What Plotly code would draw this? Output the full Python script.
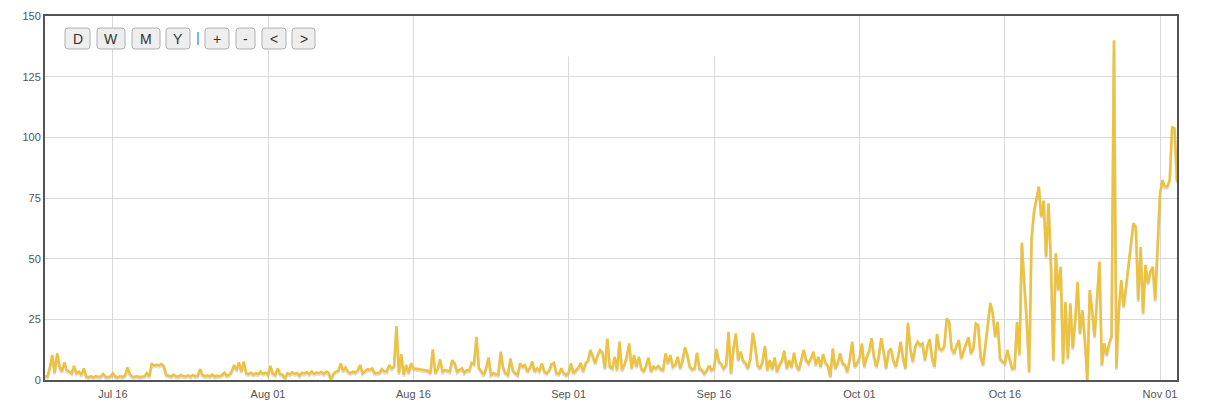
import pandas as pd
import plotly.graph_objects as go

# ---------------- data (6-hourly samples starting 2013-07-09 00:00) ----------------
start_time = "2013-07-09 00:00"
sample_step = "6h"

values_jul = [
    1.5, 1.4, 5.0, 10.3, 3.0, 11.0, 5.5, 3.5,
    7.3, 4.0, 3.5, 2.8, 5.8, 2.8, 3.5, 2.1,
    4.8, 1.4, 1.2, 1.5, 1.1, 1.6, 1.3, 1.4,
    2.5, 1.3, 1.2, 1.5, 2.8, 1.4, 1.2, 1.6,
    1.3, 1.8, 5.2, 2.5, 1.4, 1.3, 1.6, 1.2,
    1.4, 1.5, 2.8, 1.4, 6.6, 6.0, 6.3, 6.0,
    6.6, 5.8, 2.1, 1.8, 1.5, 2.2, 1.6, 1.4,
    2.0, 1.7, 1.5, 1.9, 1.4, 2.1, 1.6, 1.8,
    4.5, 2.1, 1.6, 1.9, 1.5, 2.2, 1.4, 1.8,
    1.6, 2.0, 3.0, 1.8, 2.2, 3.5, 6.2, 4.1,
    7.3, 3.5, 7.6, 2.8, 2.5, 3.0, 2.2, 2.8,
    2.4, 3.5, 2.6, 3.0,
]

values_aug = [
    2.2, 5.8, 2.6, 2.1, 4.8, 2.5, 2.1, 0.8,
    2.8, 2.4, 3.2, 2.5, 2.9, 1.8, 3.0, 2.6,
    3.3, 2.4, 3.5, 2.6, 3.1, 2.8, 3.4, 2.5,
    3.5, 2.9, 0.3, 2.5, 3.5, 3.8, 6.9, 3.8,
    5.2, 3.4, 2.8, 3.5, 3.0, 4.0, 6.2, 2.8,
    3.5, 4.5, 4.2, 4.8, 2.8, 2.8, 3.0, 4.5,
    3.5, 3.5, 6.2, 4.8, 5.5, 22.2, 2.8, 10.6,
    2.1, 6.2, 2.8, 6.9, 4.8, None, None, None,
    None, None, 3.8, 2.8, 12.6, 2.8, 4.5, 8.5,
    3.5, 4.1, 3.8, 3.5, 8.2, 6.9, 3.5, 4.0,
    4.8, 3.0, 4.1, 3.8, 7.1, 6.6, 17.8, 5.0,
    3.5, 2.1, 5.0, 9.3, 2.1, 2.8, 2.4, 2.1,
    11.7, 5.0, 2.8, 2.1, 8.9, 4.0, 2.8, 2.1,
    6.9, 5.5, 6.2, 3.5, 5.0, 7.6, 3.5, 4.8,
    3.8, 6.9, 3.5, 2.8, 4.0, 6.6, 7.1, 2.8,
    2.5, 4.8, 2.8, 2.1,
]

values_sep = [
    3.0, 6.9, 2.8, 4.1, 5.0, 7.1, 3.5, 6.9,
    8.0, 12.4, 9.6, 6.9, 10.3, 12.4, 11.3, 4.8,
    17.1, 5.5, 4.8, 9.6, 4.1, 15.8, 4.1, 6.2,
    9.6, 15.1, 4.8, 10.3, 5.5, 9.6, 4.8, 3.5,
    6.0, 9.2, 3.5, 5.5, 4.8, 5.8, 4.5, 4.1,
    11.0, 6.9, 10.3, 5.5, 6.2, 9.6, 4.8, 8.0,
    13.5, 10.3, 5.5, 4.4, 4.8, 11.3, 4.8, 4.1,
    2.7, 4.0, 5.9, 4.1, 4.8, 12.8, 7.6, 6.6,
    4.8, 6.2, 19.9, 2.7, 13.0, 19.2, 8.2, 11.7,
    8.0, 6.9, 4.8, 8.9, 19.5, 13.7, 6.0, 4.8,
    7.6, 14.0, 4.1, 8.2, 4.4, 9.3, 3.4, 6.2,
    8.0, 12.1, 4.8, 8.2, 5.2, 11.3, 6.0, 4.1,
    8.2, 12.4, 8.2, 6.9, 9.0, 11.7, 6.2, 9.6,
    5.5, 10.7, 7.0, 5.8, 1.4, 13.0, 4.8, 6.9,
    11.0, 7.0, 6.2, 3.4, 8.5, 15.8, 5.5, 6.9,
]

values_oct = [
    9.0, 15.1, 5.5, 9.6, 12.0, 17.2, 9.6, 5.5,
    10.0, 17.2, 11.7, 4.8, 11.7, 13.0, 8.0, 5.5,
    10.0, 15.8, 8.9, 4.8, 23.6, 13.0, 7.6, 13.7,
    15.8, 14.4, 15.1, 8.2, 14.0, 16.8, 8.9, 5.5,
    19.0, 13.0, 12.4, 14.0, 25.4, 24.0, 13.0, 11.0,
    14.0, 16.5, 8.9, 12.4, 15.0, 17.6, 11.0, 13.0,
    23.3, 22.6, 9.6, 6.2, 15.1, 21.9, 31.8, 27.5,
    17.9, 24.0, 8.9, 7.6, 6.9, 12.4, 8.2, 4.8,
    5.0, 24.0, 10.5, 56.6, 39.9, 24.7, 3.4, 58.4,
    69.4, 74.2, 79.7, 67.3, 74.0, 50.8, 72.8, 48.1,
    8.2, 52.2, 37.1, 46.7, 6.9, 32.2, 8.9, 31.6,
    13.0, 24.7, 40.5, 19.2, 28.8, 16.5, 0.0, 37.1,
    28.8, 17.9, 31.6, 48.8, 6.2, 15.1, 10.3, 15.1,
    17.9, 140.0, 4.8, 28.8, 41.2, 30.2, 38.5, 48.1,
    54.9, 64.6, 63.2, 32.9, 54.9, 27.5, 47.4, 39.8,
    44.6, 46.7, 32.9, 53.6,
]

values_nov = [76.9, 82.4, 79.7, 79.7, 82.4, 104.4, 103.7, 81.7]

tick_dates = ["2013-07-16", "2013-08-01", "2013-08-16", "2013-09-01",
              "2013-09-16", "2013-10-01", "2013-10-16", "2013-11-01"]
tick_labels = ["Jul 16", "Aug 01", "Aug 16", "Sep 01",
               "Sep 16", "Oct 01", "Oct 16", "Nov 01"]
y_ticks = [0, 25, 50, 75, 100, 125, 150]
button_labels = ["D", "W", "M", "Y", "+", "-", "<", ">"]

# ---------------- figure ----------------
values = values_jul + values_aug + values_sep + values_oct + values_nov
times = pd.date_range(start_time, periods=len(values), freq=sample_step)
shadow = [None if v is None else v - 0.7 for v in values]

LINE = "#edc240"
AXIS = "#545454"
GRID = "#d9d9d9"
FONT = "Liberation Sans, Arial, sans-serif"

fig = go.Figure()
fig.add_trace(go.Scatter(x=times, y=shadow, mode="lines", connectgaps=True,
                         line=dict(color="rgba(0,0,0,0.13)", width=2.8),
                         hoverinfo="skip", showlegend=False))
fig.add_trace(go.Scatter(x=times, y=values, mode="lines", connectgaps=True,
                         line=dict(color=LINE, width=2.5),
                         showlegend=False))

axis_common = dict(showgrid=True, gridcolor=GRID, gridwidth=1,
                   showline=True, linecolor=AXIS, linewidth=2, mirror=True,
                   ticks="", zeroline=False, automargin=False,
                   tickfont=dict(family=FONT, size=11, color=AXIS))

fig.update_xaxes(type="date", range=[times[0], times[-1]],
                 tickmode="array", tickvals=tick_dates, ticktext=tick_labels,
                 ticklabelstandoff=3, **axis_common)
fig.update_yaxes(range=[0, 150], tickmode="array", tickvals=y_ticks,
                 **axis_common)

# navigation buttons (pixel offsets from plot top-left)
button_spans = [(20, 45), (52, 80), (87, 115), (121, 145),
                (160, 184), (191, 210), (217, 241), (247, 270)]
shapes = []
annotations = []
top, bot, r = -12, -33, 3
for label, (x0, x1) in zip(button_labels, button_spans):
    path = (f"M {x0 + r},{top} L {x1 - r},{top} Q {x1},{top} {x1},{top - r} "
            f"L {x1},{bot + r} Q {x1},{bot} {x1 - r},{bot} L {x0 + r},{bot} "
            f"Q {x0},{bot} {x0},{bot + r} L {x0},{top - r} Q {x0},{top} {x0 + r},{top} Z")
    shapes.append(dict(type="path", path=path, xref="paper", yref="paper",
                       xsizemode="pixel", ysizemode="pixel", xanchor=0, yanchor=1,
                       fillcolor="#eeeeee", line=dict(color="#b0b0b0", width=1),
                       layer="above"))
    annotations.append(dict(text=label, x=0, y=1, xref="paper", yref="paper",
                            xshift=(x0 + x1) / 2, yshift=(top + bot) / 2,
                            xanchor="center", yanchor="middle", showarrow=False,
                            font=dict(family=FONT, size=14, color="#333333")))
# blue separator
shapes.append(dict(type="line", xref="paper", yref="paper",
                   xsizemode="pixel", ysizemode="pixel", xanchor=0, yanchor=1,
                   x0=153, x1=153, y0=-16, y1=-29,
                   line=dict(color="#4a9fdc", width=1.5), layer="above"))
# white mask over the top of two vertical gridlines (as in the reference)
shapes.append(dict(type="rect", xref="x", yref="y",
                   x0="2013-08-24", x1="2013-09-24", y0=133.3, y1=150,
                   fillcolor="white", line=dict(width=0), layer="between"))

# the page body adds an 8px offset, so the figure is sized to fit the window
fig.update_layout(width=1204, height=409,
                  margin=dict(l=37, r=35, t=8, b=37),
                  paper_bgcolor="white", plot_bgcolor="white",
                  shapes=shapes, annotations=annotations,
                  font=dict(family=FONT, color=AXIS))

fig.write_html("out.html")
